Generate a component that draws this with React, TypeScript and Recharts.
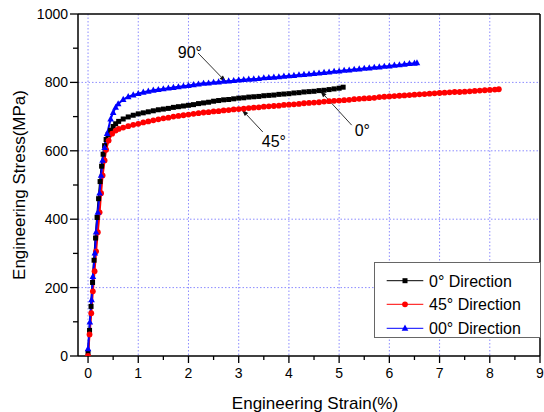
import { CartesianGrid, Label, Legend, Line, LineChart, ReferenceLine, XAxis, YAxis } from "recharts";

const FONT = '"Liberation Sans", Arial, sans-serif';

// 0° direction (black squares)
const strain0 = [
  0, 0.03, 0.06, 0.09, 0.12, 0.15, 0.18, 0.21, 0.24, 0.27, 0.3, 0.33, 0.36, 0.4, 0.45, 0.5, 0.55, 0.61,
  0.7, 0.8, 0.9, 1.0, 1.1, 1.2, 1.3, 1.4, 1.5, 1.6, 1.7, 1.8, 1.9, 2.0, 2.1, 2.2, 2.3, 2.4, 2.5, 2.6, 2.7,
  2.8, 2.9, 3.0, 3.1, 3.2, 3.3, 3.4, 3.5, 3.6, 3.7, 3.8, 3.9, 4.0, 4.1, 4.2, 4.3, 4.4, 4.5, 4.6, 4.7, 4.8,
  4.9, 5.0, 5.08,
];
const stress0 = [
  10, 75, 145, 215, 280, 345, 405, 460, 510, 555, 590, 615, 633, 648, 660, 671, 679, 686,
  693, 699, 704, 708, 711, 714, 717, 720, 722, 724, 727, 729, 731, 733, 735, 738, 740, 742, 745, 747, 749,
  750, 752, 754, 755, 757, 758, 759, 761, 762, 763, 765, 766, 767, 769, 770, 772, 773, 774, 776, 777, 779,
  781, 783, 786,
];

// 45° direction (red circles)
const strain45 = [
  0, 0.03, 0.064, 0.096, 0.13, 0.16, 0.195, 0.23, 0.26, 0.29, 0.33, 0.36, 0.41, 0.48, 0.55, 0.61,
  0.7, 0.8, 0.9, 1.0, 1.1, 1.2, 1.3, 1.4, 1.5, 1.6, 1.7, 1.8, 1.9, 2.0, 2.1, 2.2, 2.3, 2.4, 2.5, 2.6, 2.7,
  2.8, 2.9, 3.0, 3.1, 3.2, 3.3, 3.4, 3.5, 3.6, 3.7, 3.8, 3.9, 4.0, 4.1, 4.2, 4.3, 4.4, 4.5, 4.6, 4.7, 4.8,
  4.9, 5.0, 5.1, 5.2, 5.3, 5.4, 5.5, 5.6, 5.7, 5.8, 5.9, 6.0, 6.1, 6.2, 6.3, 6.4, 6.5, 6.6, 6.7, 6.8, 6.9,
  7.0, 7.1, 7.2, 7.3, 7.4, 7.5, 7.6, 7.7, 7.8, 7.9, 8.0, 8.1, 8.18,
];
const stress45 = [
  0, 63, 125, 189, 248, 306, 362, 420, 476, 528, 572, 603, 630, 650, 659, 664,
  668, 672, 676, 679, 683, 686, 689, 692, 695, 697, 700, 702, 704, 706, 708, 710, 712, 713, 715, 716, 718,
  719, 721, 722, 723, 725, 726, 727, 729, 730, 731, 732, 734, 735, 736, 737, 739, 740, 741, 742, 744, 745,
  746, 747, 748, 749, 751, 752, 753, 754, 755, 757, 758, 759, 760, 761, 762, 763, 764, 765, 766, 767, 768,
  769, 770, 771, 772, 772, 773, 774, 775, 776, 777, 778, 779, 780,
];

// 90° direction (blue triangles)
const strain90 = [
  0, 0.036, 0.07, 0.096, 0.136, 0.16, 0.195, 0.23, 0.26, 0.29, 0.33, 0.38, 0.45, 0.5, 0.55, 0.6,
  0.7, 0.8, 0.9, 1.0, 1.1, 1.2, 1.3, 1.4, 1.5, 1.6, 1.7, 1.8, 1.9, 2.0, 2.1, 2.2, 2.3, 2.4, 2.5, 2.6, 2.7,
  2.8, 2.9, 3.0, 3.1, 3.2, 3.3, 3.4, 3.5, 3.6, 3.7, 3.8, 3.9, 4.0, 4.1, 4.2, 4.3, 4.4, 4.5, 4.6, 4.7, 4.8,
  4.9, 5.0, 5.1, 5.2, 5.3, 5.4, 5.5, 5.6, 5.7, 5.8, 5.9, 6.0, 6.1, 6.2, 6.3, 6.4, 6.5, 6.55,
];
const stress90 = [
  21, 99, 164, 232, 301, 362, 420, 476, 528, 572, 609, 650, 693, 712, 727, 737,
  750, 758, 763, 767, 771, 774, 777, 779, 781, 783, 785, 787, 789, 791, 793, 795, 797, 798, 800, 801, 803,
  804, 805, 807, 808, 809, 810, 811, 813, 814, 815, 816, 818, 819, 820, 822, 823, 824, 826, 827, 829, 830,
  832, 833, 835, 836, 838, 839, 841, 842, 844, 845, 847, 848, 850, 851, 853, 855, 856, 857,
];

const xTicks = [0, 0.5, 1, 1.5, 2, 2.5, 3, 3.5, 4, 4.5, 5, 5.5, 6, 6.5, 7, 7.5, 8, 8.5, 9];
const yTicks = [0, 100, 200, 300, 400, 500, 600, 700, 800, 900, 1000];
const xGrid = [0, 1, 2, 3, 4, 5, 6, 7, 8];
const yGrid = [200, 400, 600, 800];

const legendNames = ["0\u00b0 Direction", "45\u00b0 Direction", "00\u00b0 Direction"];
const colors = ["#000000", "#ff0000", "#0000ff"];

// annotation arrows: [label, start strain, start stress, tip strain, tip stress]
const arrows: [string, number, number, number, number][] = [
  ["90\u00b0", 2.19, 886, 2.75, 801],
  ["45\u00b0", 3.48, 655, 3.06, 721],
  ["0\u00b0", 5.25, 675, 4.62, 776],
];
const labelOffsets = [
  { dx: 4, dy: 5, anchor: "end" },
  { dx: -1, dy: 15, anchor: "start" },
  { dx: 3, dy: 11, anchor: "start" },
];

const toPoints = (xs: number[], ys: number[]) => xs.map((x, i) => ({ x, y: ys[i] }));
const data0 = toPoints(strain0, stress0);
const data45 = toPoints(strain45, stress45);
const data90 = toPoints(strain90, stress90);

function drawMarker(kind: number, cx: number, cy: number, key?: any) {
  if (kind === 0) return <rect key={key} x={cx - 2.5} y={cy - 2.5} width={5} height={5} fill={colors[0]} />;
  if (kind === 1) return <circle key={key} cx={cx} cy={cy} r={2.9} fill={colors[1]} />;
  return (
    <polygon
      key={key}
      points={`${cx},${cy - 3.7} ${cx - 3.3},${cy + 2.4} ${cx + 3.3},${cy + 2.4}`}
      fill={colors[2]}
    />
  );
}

const dotFor = (kind: number) => (p: any) => {
  if (p.cx == null || p.cy == null) return <g key={p.index} />;
  return drawMarker(kind, p.cx, p.cy, p.index);
};

function XTick(props: any) {
  const { x, y, payload } = props;
  const v = payload.value;
  const major = Number.isInteger(v);
  return (
    <g>
      <line x1={x} x2={x} y1={y} y2={y + (major ? 7 : 4)} stroke="#000" strokeWidth={1.3} />
      {major && (
        <text x={x} y={y + 22} textAnchor="middle" fontSize={14} fontFamily={FONT} fill="#000">
          {v}
        </text>
      )}
    </g>
  );
}

function YTick(props: any) {
  const { x, y, payload } = props;
  const v = payload.value;
  const major = v % 200 === 0;
  return (
    <g>
      <line x1={x - (major ? 8 : 5)} x2={x} y1={y} y2={y} stroke="#000" strokeWidth={1.3} />
      {major && (
        <text x={x - 10} y={y + 5} textAnchor="end" fontSize={14} fontFamily={FONT} fill="#000">
          {v}
        </text>
      )}
    </g>
  );
}

const arrowShape = (i: number) => (p: any) => {
  const { x1, y1, x2, y2 } = p;
  const len = Math.hypot(x2 - x1, y2 - y1) || 1;
  const ux = (x2 - x1) / len;
  const uy = (y2 - y1) / len;
  const bx = x2 - ux * 7;
  const by = y2 - uy * 7;
  const off = labelOffsets[i];
  return (
    <g>
      <line x1={x1} y1={y1} x2={bx} y2={by} stroke="#333" strokeWidth={1} />
      <polygon
        points={`${x2},${y2} ${bx - uy * 2.3},${by + ux * 2.3} ${bx + uy * 2.3},${by - ux * 2.3}`}
        fill="#111"
      />
      <text
        x={x1 + off.dx}
        y={y1 + off.dy}
        textAnchor={off.anchor as any}
        fontSize={16}
        fontFamily={FONT}
        fill="#000"
      >
        {arrows[i][0]}
      </text>
    </g>
  );
};

function LegendBox() {
  const rows = [18.7, 42.3, 66.3];
  return (
    <div
      style={{
        width: 167,
        height: 76,
        border: "1.5px solid #666",
        background: "#fff",
        boxSizing: "border-box",
        position: "relative",
      }}
    >
      <svg width={167} height={76} style={{ position: "absolute", left: -1.5, top: -1.5 }}>
        {rows.map((ry, i) => (
          <g key={i}>
            <line x1={12.7} x2={49.3} y1={ry} y2={ry} stroke={colors[i]} strokeWidth={1} />
            {drawMarker(i, 31, ry)}
            <text x={55} y={ry + 5.8} fontSize={16} fontFamily={FONT} fill="#000">
              {legendNames[i]}
            </text>
          </g>
        ))}
      </svg>
    </div>
  );
}

export default function App() {
  return (
    <div style={{ position: "absolute", left: 0, top: 0, background: "#fff" }}>
      <LineChart width={544} height={412} margin={{ top: 14, right: 4, bottom: 0, left: 0 }}>
        <CartesianGrid
          stroke="#8c8cff"
          strokeDasharray="1.5 2"
          verticalValues={xGrid}
          horizontalValues={yGrid}
        />
        <XAxis
          type="number"
          dataKey="x"
          domain={[-0.2, 9]}
          ticks={xTicks}
          interval={0}
          height={56}
          tickSize={0}
          tickMargin={0}
          tickLine={false}
          tick={<XTick />}
          axisLine={{ stroke: "#000", strokeWidth: 1.5 }}
          allowDataOverflow
        >
          <Label
            content={(p: any) => (
              <text
                x={p.viewBox.x + p.viewBox.width / 2 + 6}
                y={p.viewBox.y + 53}
                textAnchor="middle"
                fontSize={17}
                fontFamily={FONT}
                fill="#000"
              >
                Engineering Strain(%)
              </text>
            )}
          />
        </XAxis>
        <YAxis
          type="number"
          domain={[0, 1000]}
          ticks={yTicks}
          interval={0}
          width={78}
          tickSize={0}
          tickMargin={0}
          tickLine={false}
          tick={<YTick />}
          axisLine={{ stroke: "#000", strokeWidth: 1.5 }}
          allowDataOverflow
        >
          <Label
            content={(p: any) => (
              <text
                x={25}
                y={p.viewBox.y + p.viewBox.height / 2}
                transform={`rotate(-90, 25, ${p.viewBox.y + p.viewBox.height / 2})`}
                textAnchor="middle"
                fontSize={17}
                fontFamily={FONT}
                fill="#000"
              >
                Engineering Stress(MPa)
              </text>
            )}
          />
        </YAxis>
        <ReferenceLine y={1000} stroke="#000" strokeWidth={1.5} />
        <ReferenceLine x={9} stroke="#000" strokeWidth={1.5} />
        <Line
          data={data0}
          dataKey="y"
          type="linear"
          stroke={colors[0]}
          strokeWidth={2}
          dot={dotFor(0)}
          activeDot={false}
          isAnimationActive={false}
        />
        <Line
          data={data45}
          dataKey="y"
          type="linear"
          stroke={colors[1]}
          strokeWidth={2}
          dot={dotFor(1)}
          activeDot={false}
          isAnimationActive={false}
        />
        <Line
          data={data90}
          dataKey="y"
          type="linear"
          stroke={colors[2]}
          strokeWidth={2}
          dot={dotFor(2)}
          activeDot={false}
          isAnimationActive={false}
        />
        {arrows.map((a, i) => (
          <ReferenceLine
            key={a[0]}
            segment={[
              { x: a[1], y: a[2] },
              { x: a[3], y: a[4] },
            ]}
            shape={arrowShape(i)}
          />
        ))}
        <Legend
          layout="horizontal"
          align="center"
          verticalAlign="middle"
          content={() => <LegendBox />}
          wrapperStyle={{ position: "absolute", left: 374, top: 262, width: 167, height: 76 }}
        />
      </LineChart>
    </div>
  );
}
